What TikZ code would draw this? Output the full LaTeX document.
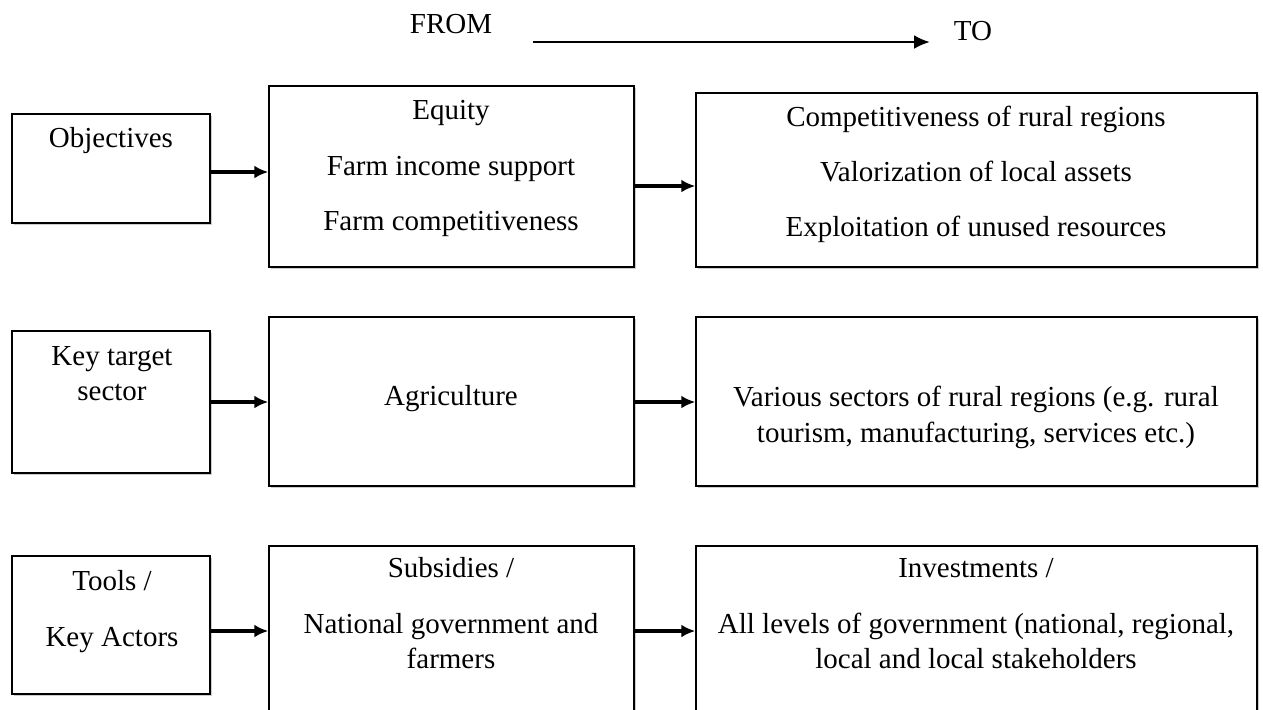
\documentclass[tikz,border=0pt]{standalone}
\usepackage{fontspec}
\setmainfont{Liberation Serif}
\usetikzlibrary{arrows.meta,fit,shadows}

\tikzset{
  box/.style={draw, line width=0.75pt, fill=white, inner sep=0pt,
    drop shadow={shadow xshift=1.2pt, shadow yshift=-1.2pt, opacity=0.4}},
  txt/.style={anchor=base, inner sep=0pt, font=\fontsize{14.5pt}{17pt}\selectfont},
  link/.style={line width=2pt, -{Latex[length=7pt,width=6.5pt]}},
}

\begin{document}
\begin{tikzpicture}[x=0.5pt, y=-0.5pt]
\useasboundingbox (0,0) rectangle (1263,709);
\clip (0,0) rectangle (1263,709);

% heading
\node[txt] (from) at (451,33) {FROM};
\node[txt] (to) at (973,40) {TO};
\coordinate (shiftstart) at (533,42);
\coordinate (shiftend) at (930,42);
\draw[line width=1.3pt, -{Latex[length=8pt,width=7pt]}] (shiftstart) -- (shiftend);

% objectives
\node[box, fit={(12,114) (210,223)}] (obj) {};
\node[box, fit={(269,86) (634,267)}] (objold) {};
\node[box, fit={(696,93) (1257,267)}] (objnew) {};
\node[txt] (objT) at (111,147) {Objectives};
\node[txt] (objold1) at (451,119) {Equity};
\node[txt] (objold2) at (451,175) {Farm income support};
\node[txt] (objold3) at (451,230) {Farm competitiveness};
\node[txt] (objnew1) at (976,126) {Competitiveness of rural regions};
\node[txt] (objnew2) at (976,181) {Valorization of local assets};
\node[txt] (objnew3) at (976,236) {Exploitation of unused resources};
\coordinate (rowa) at (0,172);
\coordinate (rowb) at (0,186);
\draw[link] (obj.east |- rowa) -- (objold.west |- rowa);
\draw[link] (objold.east |- rowb) -- (objnew.west |- rowb);

% key target sector
\node[box, fit={(12,331) (210,473)}] (sec) {};
\node[box, fit={(269,317) (634,486)}] (secold) {};
\node[box, fit={(696,317) (1257,486)}] (secnew) {};
\node[txt] (secT1) at (112,365) {Key target};
\node[txt] (secT2) at (112,400) {sector};
\node[txt] (secold1) at (451,405) {Agriculture};
\node[txt] (secnew1) at (976,406) {Various sectors of rural regions (e.g. rural};
\node[txt] (secnew2) at (976,442) {tourism, manufacturing, services etc.)};
\coordinate (rowc) at (0,402);
\draw[link] (sec.east |- rowc) -- (secold.west |- rowc);
\draw[link] (secold.east |- rowc) -- (secnew.west |- rowc);

% tools / key actors
\node[box, fit={(12,556) (210,694)}] (act) {};
\node[box, fit={(269,546) (634,740)}] (actold) {};
\node[box, fit={(696,546) (1257,740)}] (actnew) {};
\node[txt] (actT1) at (112,590) {Tools /};
\node[txt] (actT2) at (112,646) {Key Actors};
\node[txt] (actold1) at (451,577) {Subsidies /};
\node[txt] (actold2) at (451,633) {National government and};
\node[txt] (actold3) at (451,668) {farmers};
\node[txt] (actnew1) at (976,577) {Investments /};
\node[txt] (actnew2) at (976,633) {All levels of government (national, regional,};
\node[txt] (actnew3) at (976,668) {local and local stakeholders};
\coordinate (rowd) at (0,631);
\draw[link] (act.east |- rowd) -- (actold.west |- rowd);
\draw[link] (actold.east |- rowd) -- (actnew.west |- rowd);
\end{tikzpicture}
\end{document}
